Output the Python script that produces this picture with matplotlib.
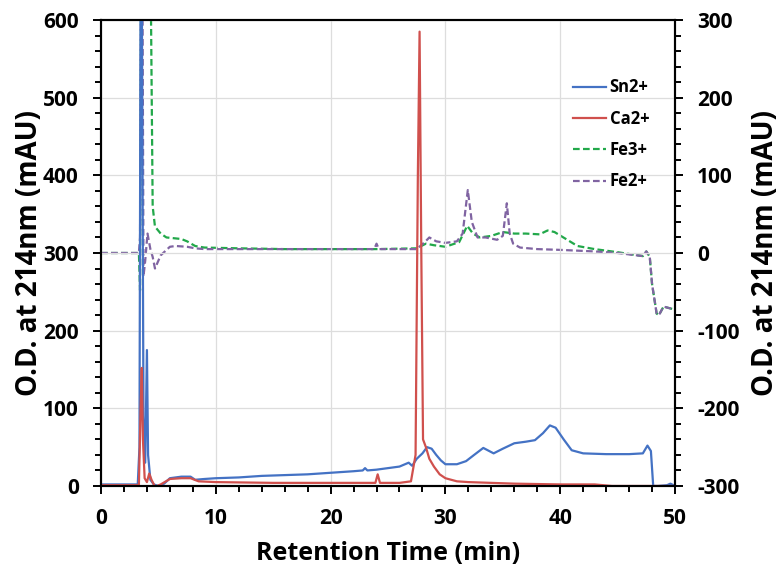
import matplotlib
matplotlib.use('Agg')
import matplotlib.pyplot as plt
from matplotlib.ticker import MultipleLocator

# Sn2+ (venstre akse)
t_sn = [0, 3.2, 3.35, 3.45, 3.55, 3.7, 3.85, 4.0, 4.1, 4.3,
        4.6, 5.0, 5.5, 6.0, 7.0, 7.8, 8.2, 9, 10, 12,
        14, 16, 18, 20, 22, 22.8, 23, 23.2, 24, 26,
        26.8, 27.1, 27.5, 28.0, 28.4, 28.8, 29.2, 29.6, 30, 31,
        31.8, 32.5, 33.3, 34.2, 35, 36, 37, 37.8, 38.5, 39.1,
        39.6, 40.3, 41, 42, 44, 46, 47.2, 47.6, 47.9, 48.1,
        48.5, 49.3, 49.6, 50]
sn = [2, 2, 50, 650, 650, 90, 30, 175, 40, 8,
      2, 0, 3, 10, 12, 12, 8, 9, 10, 11,
      13, 14, 15, 17, 19, 20, 23, 20, 21, 25,
      30, 26, 35, 42, 50, 48, 40, 33, 28, 28,
      32, 40, 49, 42, 48, 55, 57, 59, 68, 78,
      75, 60, 46, 42, 41, 41, 42, 52, 45, 0,
      0, 1, 3, 0]

# Ca2+ (venstre akse)
t_ca = [0, 3.3, 3.45, 3.55, 3.65, 3.8, 4.0, 4.2, 4.4, 4.7,
        5.2, 6.0, 7.0, 7.8, 8.5, 10, 15, 20, 23.9, 24.1,
        24.3, 26, 27.0, 27.4, 27.6, 27.75, 27.9, 28.05, 28.3, 28.6,
        29, 29.5, 30, 31, 32, 34, 36, 40, 43, 44.5,
        50]
ca = [1, 1, 100, 152, 60, 10, 5, 16, 8, -1,
      2, 9, 10, 10, 6, 5, 4, 4, 4, 15,
      4, 4, 6, 40, 400, 585, 300, 60, 50, 35,
      25, 15, 10, 6, 5, 4, 3, 2, 2, 0,
      0]

# Fe3+ (hoyre akse)
t_fe3 = [0, 3.3, 3.4, 3.5, 3.6, 4.3, 4.5, 4.7, 5.2, 5.7,
         7.0, 7.5, 8.2, 9, 12, 16, 20, 24, 27.5, 28.3,
         29, 30, 31.2, 31.9, 32.4, 33, 34, 35, 36, 37,
         38.2, 38.9, 39.5, 40.5, 41.5, 43, 45, 47.2, 47.5, 47.8,
         48.0, 48.4, 48.6, 49, 49.5, 50]
fe3 = [0, 0, -48, 400, 400, 400, 60, 34, 25, 20,
       18, 15, 9, 7, 6, 5, 5, 5, 6, 12,
       10, 8, 14, 35, 25, 20, 22, 27, 25, 25,
       24, 29, 27, 18, 9, 5, 1, -4, 2, -5,
       -40, -78, -80, -69, -71, -73]

# Fe2+ (hoyre akse)
t_fe2 = [0, 3.3, 3.4, 3.5, 3.6, 3.7, 3.85, 4.05, 4.3, 4.5,
         4.7, 5.2, 6.0, 6.5, 7.5, 8.2, 9, 12, 16, 20,
         23.8, 24.0, 24.2, 27.5, 28.2, 28.6, 29.2, 30, 31, 31.5,
         31.95, 32.3, 32.8, 33.5, 34.5, 35.0, 35.35, 35.6, 35.9, 36.5,
         38, 40, 43, 45, 47.2, 47.5, 47.8, 48.0, 48.4, 48.6,
         49, 49.5, 50]
fe2 = [0, 0, 20, 400, 400, -30, -10, 25, 5, -5,
       -20, -3, 8, 9, 8, 6, 5, 5, 5, 5,
       5, 12, 5, 5, 14, 20, 15, 13, 15, 25,
       81, 40, 20, 20, 17, 22, 64, 25, 12, 7,
       5, 4, 2, 0, -4, 2, -5, -40, -78, -80,
       -69, -71, -73]

plt.rcParams['font.family'] = ['Open Sans', 'DejaVu Sans']
plt.rcParams['font.weight'] = 'bold'
plt.rcParams['axes.unicode_minus'] = False

fig = plt.figure(figsize=(7.8, 5.68), dpi=100)
ax1 = fig.add_axes([0.1295, 0.1444, 0.7359, 0.8204])
ax2 = ax1.twinx()
ax1.set_zorder(ax2.get_zorder() + 1)
ax1.patch.set_visible(False)

l1, = ax1.plot(t_sn, sn, color='#4472C4', lw=1.6, label='Sn2+')
l2, = ax1.plot(t_ca, ca, color='#D0504D', lw=1.6, label='Ca2+')
l3, = ax2.plot(t_fe3, fe3, color='#22A84A', lw=1.6, ls=(0, (3, 1.5)), label='Fe3+')
l4, = ax2.plot(t_fe2, fe2, color='#8064A2', lw=1.6, ls=(0, (3, 1.5)), label='Fe2+')

ax1.set_xlim(0, 50)
ax1.set_ylim(0, 600)
ax2.set_ylim(-300, 300)

ax1.xaxis.set_major_locator(MultipleLocator(10))
ax1.xaxis.set_minor_locator(MultipleLocator(2))
ax1.yaxis.set_major_locator(MultipleLocator(100))
ax1.yaxis.set_minor_locator(MultipleLocator(20))
ax2.yaxis.set_major_locator(MultipleLocator(100))
ax2.yaxis.set_minor_locator(MultipleLocator(20))

ax1.grid(True, which='major', color='#DDDDDD', lw=0.9)
ax1.set_axisbelow(True)

for ax in (ax1, ax2):
    for s in ax.spines.values():
        s.set_linewidth(1.5)
    ax.tick_params(which='major', length=6, width=1.4, labelsize=15, pad=10)
    ax.tick_params(which='minor', length=4, width=1.4)

ax1.set_xlabel('Retention Time (min)', fontsize=18, fontweight='bold')
ax1.set_ylabel('O.D. at 214nm (mAU)', fontsize=20, fontweight='bold')
ax2.set_ylabel('O.D. at 214nm (mAU)', fontsize=20, fontweight='bold')
ax1.xaxis.set_label_coords(0.5, -0.118)
ax1.yaxis.set_label_coords(-0.099, 0.5)
ax2.yaxis.set_label_coords(1.133, 0.5)

ax1.legend(handles=[l1, l2, l3, l4], loc='upper left',
           bbox_to_anchor=(0.7346, 0.862), bbox_transform=fig.transFigure,
           frameon=False, handlelength=2.0, handletextpad=0.2,
           labelspacing=0.8, borderpad=0, borderaxespad=0,
           prop={'weight': 'bold', 'size': 12})

fig.savefig('out.png', dpi=100)
